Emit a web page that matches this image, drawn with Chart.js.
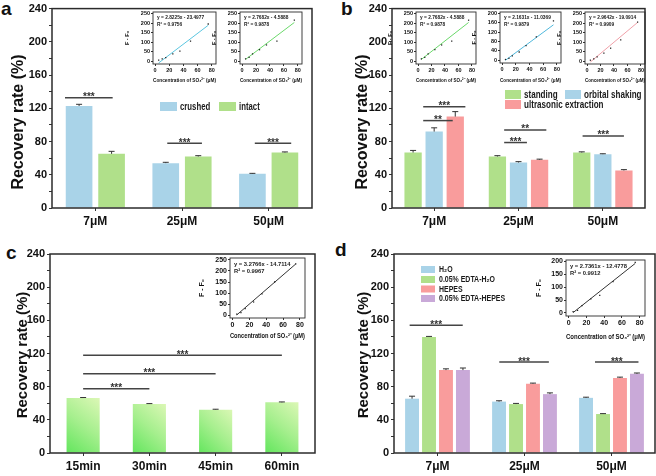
<!DOCTYPE html>
<html>
<head>
<meta charset="utf-8">
<script src="https://cdn.jsdelivr.net/npm/chart.js@4.4.1/dist/chart.umd.min.js"></script>
<style>
  body { margin: 0; background: #fff; width: 656px; height: 476px; position: relative; overflow: hidden; }
  canvas { position: absolute; }
  .tag { position: absolute; font: bold 19px "Liberation Sans", Arial, sans-serif; line-height: 19px; color: #111; }
</style>
</head>
<body>
<div class="tag" style="left:1px;top:-1px">a</div>
<div class="tag" style="left:341px;top:-1px">b</div>
<div class="tag" style="left:6px;top:243px">c</div>
<div class="tag" style="left:335px;top:240px">d</div>

<canvas id="chartA" width="328" height="238" style="left:0;top:0"></canvas>
<canvas id="chartB" width="328" height="238" style="left:328px;top:0"></canvas>
<canvas id="chartC" width="328" height="238" style="left:0;top:238px"></canvas>
<canvas id="chartD" width="328" height="238" style="left:328px;top:238px"></canvas>

<canvas id="insetA1" width="108" height="80" style="left:124px;top:4px"></canvas>
<canvas id="insetA2" width="108" height="80" style="left:211px;top:4px"></canvas>
<canvas id="insetB1" width="106" height="80" style="left:387px;top:4px"></canvas>
<canvas id="insetB2" width="106" height="80" style="left:471px;top:4px"></canvas>
<canvas id="insetB3" width="100" height="80" style="left:556px;top:4px"></canvas>
<canvas id="insetC" width="125" height="90" style="left:198px;top:250px"></canvas>
<canvas id="insetD" width="121" height="89" style="left:535px;top:252px"></canvas>

<script>
// ---- data ----
const concLabels = ["7μM", "25μM", "50μM"];
const timeLabels = ["15min", "30min", "45min", "60min"];
const yTicks = [0, 40, 80, 120, 160, 200, 240];
const yMinorTicks = [0, 20, 40, 60, 80, 100, 120, 140, 160, 180, 200, 220, 240];

// panel a
const crushed = [122.8, 54, 41.2];
const crushedErr = [2, 1, 0.5];
const intact = [65.2, 62, 66.8];
const intactErr = [3, 1, 0.7];
const sigA = [[-0.35, 0.2, 132.8, "***"], [0.83, 1.23, 78, "***"], [1.84, 2.26, 78, "***"]];

// panel b
const standing = [66.8, 62, 66.8];
const standingErr = [2.5, 1, 0.8];
const orbital = [92, 54.8, 64.8];
const orbitalErr = [4.5, 1, 0.5];
const ultrasonic = [110, 58, 45.2];
const ultrasonicErr = [6, 0.8, 1];
const sigB = [[-0.13, 0.37, 122, "***"], [-0.13, 0.22, 105.2, "**"], [0.83, 1.33, 94, "**"],
              [0.83, 1.1, 78.8, "***"], [1.76, 2.25, 86.8, "***"]];

// panel c
const extractTime = [66.3, 59.1, 52.3, 61.1];
const extractTimeErr = [0.6, 0.5, 0.5, 0.5];
const sigC = [[0, 3, 117.8, "***"], [0, 2, 95.7, "***"], [0, 1, 77.6, "***"]];

// panel d
const h2o = [65.5, 62, 66.5];
const h2oErr = [3, 1, 0.8];
const edtaH2o = [140, 59, 47];
const edtaH2oErr = [0.6, 0.8, 0.5];
const hepes = [100, 83.5, 90.5];
const hepesErr = [1.5, 0.8, 1];
const edtaHepes = [100, 71, 95.5];
const edtaHepesErr = [2.5, 1.5, 1];
const sigD = [[-0.32, 0.29, 154, "***"], [0.71, 1.28, 109.7, "***"], [1.81, 2.31, 109.7, "***"]];

// calibration insets
const calConc = [5, 10, 15, 25, 35, 50, 75];
const calCrushed = [5, 12, 18, 38, 52, 105, 195];
const calIntact = [12, 20, 38, 60, 85, 105, 215];
const calOrbital = [3, 8, 18, 35, 62, 100, 168];
const calUltra = [5, 12, 22, 42, 68, 112, 205];
const calTime = [5, 12, 30, 60, 97, 150, 232];
const calBuffer = [5, 10, 28, 55, 68, 122, 197];
const fitCrushed = [[5, -9.4], [75, 188.2]];
const fitIntact = [[5, 9.3], [75, 203]];
const fitOrbital = [[5, -0.2], [75, 151.2]];
const fitUltra = [[5, -4.3], [75, 203.2]];
const fitTime = [[5, 1.7], [75, 231]];
const fitBuffer = [[5, 1.2], [75, 192.7]];
const eqCrushed = ["y = 2.8225x - 23.4977", "R² = 0.9756"];
const eqIntact = ["y = 2.7682x - 4.5888", "R² = 0.9878"];
const eqOrbital = ["y = 2.1631x - 11.0369", "R² = 0.9879"];
const eqUltra = ["y = 2.9642x - 19.0914", "R² = 0.9909"];
const eqTime = ["y = 3.2766x - 14.7114", "R² = 0.9967"];
const eqBuffer = ["y = 2.7361x - 12.4778", "R² = 0.9912"];
const insetXTicks = [0, 20, 40, 60, 80];
const insetTicks250 = [0, 50, 100, 150, 200, 250];
const insetTicks200 = [0, 40, 80, 120, 160, 200];
const insetTicks200b = [0, 50, 100, 150, 200];

const FONT = '"Liberation Sans", Arial, sans-serif';
const BLUE = "#a9d3e8", GREEN = "#b0e08a", RED = "#f99c9c", PURPLE = "#c9a9d8";

// ---- plugins ----
function framePlugin(lw) {
  return {
    id: "frame",
    afterDraw(chart) {
      const { ctx, chartArea: a } = chart;
      ctx.save();
      ctx.strokeStyle = "#2b2b2b";
      ctx.lineWidth = lw;
      ctx.strokeRect(a.left, a.top, a.right - a.left, a.bottom - a.top);
      ctx.restore();
    }
  };
}

function errorPlugin() {
  return {
    id: "errbars",
    afterDatasetsDraw(chart) {
      const ctx = chart.ctx, ys = chart.scales.y;
      chart.data.datasets.forEach((ds, di) => {
        if (!ds.errors) return;
        chart.getDatasetMeta(di).data.forEach((el, i) => {
          const top = ys.getPixelForValue(ds.data[i] + ds.errors[i]);
          ctx.save();
          ctx.strokeStyle = "#333";
          ctx.lineWidth = 1;
          ctx.beginPath();
          ctx.moveTo(el.x, el.y);
          ctx.lineTo(el.x, top);
          ctx.moveTo(el.x - 3, top);
          ctx.lineTo(el.x + 3, top);
          ctx.stroke();
          ctx.restore();
        });
      });
    }
  };
}

function sigPlugin(items) {
  return {
    id: "sig",
    afterDatasetsDraw(chart) {
      const { ctx, scales: { x, y } } = chart;
      ctx.save();
      ctx.strokeStyle = "#444";
      ctx.fillStyle = "#333";
      ctx.lineWidth = 1.5;
      ctx.font = "bold 10px " + FONT;
      ctx.textAlign = "center";
      ctx.textBaseline = "alphabetic";
      items.forEach(([from, to, v, t]) => {
        const x1 = x.getPixelForValue(from), x2 = x.getPixelForValue(to), yy = y.getPixelForValue(v);
        ctx.beginPath();
        ctx.moveTo(x1, yy);
        ctx.lineTo(x2, yy);
        ctx.stroke();
        ctx.fillText(t, (x1 + x2) / 2, yy + 2.5);
      });
      ctx.restore();
    }
  };
}

// legend text in the figure is horizontally squeezed, sx compresses it
function legendPlugin(items, cfg) {
  return {
    id: "boxlegend",
    afterDraw(chart) {
      const ctx = chart.ctx;
      items.forEach(([di, x, y]) => {
        const ds = chart.data.datasets[di];
        ctx.save();
        ctx.fillStyle = ds.backgroundColor;
        ctx.fillRect(x, y, cfg.w, cfg.h);
        ctx.translate(x + cfg.w + cfg.gap, y + cfg.h / 2 + 0.5);
        ctx.scale(cfg.sx, 1);
        ctx.font = "bold " + cfg.size + "px " + FONT;
        ctx.textBaseline = "middle";
        ctx.fillStyle = "#1a1a1a";
        ctx.fillText(ds.label, 0, 0);
        ctx.restore();
      });
    }
  };
}

function yTitlePlugin(text, x, y, size) {
  return {
    id: "ytitle",
    afterDraw(chart) {
      const ctx = chart.ctx;
      ctx.save();
      ctx.translate(x, y);
      ctx.rotate(-Math.PI / 2);
      ctx.font = "bold " + size + "px " + FONT;
      ctx.fillStyle = "#111";
      ctx.textAlign = "center";
      ctx.textBaseline = "middle";
      ctx.fillText(text, 0, 0);
      ctx.restore();
    }
  };
}

function eqPlugin(lines, size) {
  return {
    id: "eq",
    afterDraw(chart) {
      const { ctx, chartArea: a } = chart;
      ctx.save();
      ctx.font = "bold " + size + "px " + FONT;
      ctx.fillStyle = "#222";
      ctx.textBaseline = "top";
      lines.forEach((t, i) => ctx.fillText(t, a.left + 4, a.top + 3 + i * (size + 2)));
      ctx.restore();
    }
  };
}

// ---- builders ----
function barPanel(id, labels, datasets, geo, extra) {
  return new Chart(document.getElementById(id), {
    type: "bar",
    data: { labels, datasets },
    options: {
      animation: false,
      responsive: false,
      layout: { padding: { top: geo.top, right: geo.right, left: 0, bottom: 0 } },
      plugins: { legend: { display: false }, tooltip: { enabled: false } },
      datasets: { bar: { categoryPercentage: geo.cat, barPercentage: geo.bar } },
      scales: {
        x: {
          grid: { offset: false, drawOnChartArea: false, tickLength: 3, color: "#333" },
          border: { display: false },
          ticks: { color: "#111", font: { size: 12, weight: "bold", family: FONT }, padding: 3 },
          afterFit: s => { s.height = geo.xh; }
        },
        y: {
          min: 0, max: 240,
          grid: { drawOnChartArea: false, tickLength: 3, color: "#333" },
          border: { display: false },
          afterBuildTicks: s => { s.ticks = yMinorTicks.map(v => ({ value: v })); },
          ticks: {
            autoSkip: false, color: "#111", padding: 2,
            font: { size: 11, weight: "bold", family: FONT },
            callback: v => (yTicks.includes(v) ? v : "")
          },
          afterFit: s => { s.width = geo.yw; }
        }
      }
    },
    plugins: [errorPlugin(), framePlugin(1.5)].concat(extra)
  });
}

function insetPanel(id, vals, fit, color, eq, yTickList, yMin, yMax, geo) {
  return new Chart(document.getElementById(id), {
    type: "scatter",
    data: {
      datasets: [
        {
          data: calConc.map((c, i) => ({ x: c, y: vals[i] })),
          pointStyle: "rect", pointRadius: 0.9, backgroundColor: "#222", borderColor: "#222", borderWidth: 0
        },
        {
          data: fit.map(([x, y]) => ({ x, y })),
          showLine: true, borderColor: color, borderWidth: 1, pointRadius: 0
        }
      ]
    },
    options: {
      animation: false,
      responsive: false,
      layout: { padding: { top: geo.top, right: geo.right, left: 0, bottom: 0 } },
      plugins: { legend: { display: false }, tooltip: { enabled: false } },
      scales: {
        x: {
          type: "linear", min: -3, max: 86,
          grid: { drawOnChartArea: false, tickLength: 2, color: "#333" },
          border: { display: false },
          afterBuildTicks: s => { s.ticks = insetXTicks.map(v => ({ value: v })); },
          ticks: { autoSkip: false, maxRotation: 0, color: "#111", padding: 1, font: { size: geo.fs, weight: "bold", family: FONT } },
          title: { display: true, text: "Concentration of SO₃²⁻ (μM)", color: "#111", padding: { top: 1, bottom: 0 },
                   font: { size: geo.fs, weight: "bold", family: FONT } },
          afterFit: s => { s.height = geo.xh; }
        },
        y: {
          min: yMin, max: yMax,
          grid: { drawOnChartArea: false, tickLength: 2, color: "#333" },
          border: { display: false },
          afterBuildTicks: s => { s.ticks = yTickList.map(v => ({ value: v })); },
          ticks: { autoSkip: false, color: "#111", padding: 1, font: { size: geo.fs, weight: "bold", family: FONT } },
          title: { display: true, text: "F - F₀", color: "#111", padding: 0,
                   font: { size: geo.fs, weight: "bold", family: FONT } },
          afterFit: s => { s.width = geo.yw; }
        }
      }
    },
    plugins: [framePlugin(0.9), eqPlugin(eq, geo.eq)]
  });
}

// ---- panel a ----
barPanel("chartA", concLabels, [
  { label: "crushed", data: crushed, errors: crushedErr, backgroundColor: BLUE },
  { label: "intact", data: intact, errors: intactErr, backgroundColor: GREEN }
], { top: 8, right: 16, xh: 30, yw: 52, cat: 0.75, bar: 0.82 }, [
  sigPlugin(sigA),
  legendPlugin([[0, 160, 102], [1, 219, 102]], { size: 10.5, sx: 0.74, w: 17, h: 9, gap: 3 }),
  yTitlePlugin("Recovery rate (%)", 19, 122, 16)
]);

// ---- panel b ----
barPanel("chartB", concLabels, [
  { label: "standing", data: standing, errors: standingErr, backgroundColor: GREEN },
  { label: "orbital shaking", data: orbital, errors: orbitalErr, backgroundColor: BLUE },
  { label: "ultrasonic extraction", data: ultrasonic, errors: ultrasonicErr, backgroundColor: RED }
], { top: 8, right: 11, xh: 30, yw: 64, cat: 0.75, bar: 0.82 }, [
  sigPlugin(sigB),
  legendPlugin([[0, 177, 90], [1, 237, 90], [2, 177, 100]], { size: 10.5, sx: 0.77, w: 16, h: 9, gap: 3 }),
  yTitlePlugin("Recovery rate (%)", 35, 122, 16)
]);

// ---- panel c (gradient bars) ----
function timeGradient(ctx) {
  const chart = ctx.chart;
  const xs = chart.scales.x, ys = chart.scales.y;
  if (!xs || !ys || !chart.chartArea) return GREEN;
  const cx = xs.getPixelForValue(ctx.dataIndex);
  const g = chart.ctx.createLinearGradient(cx - 20, ys.getPixelForValue(0), cx + 22, ys.getPixelForValue(ctx.raw));
  g.addColorStop(0, "#5ee55a");
  g.addColorStop(0.5, "#a6ef8e");
  g.addColorStop(1, "#e2f8ba");
  return g;
}
barPanel("chartC", timeLabels, [
  { label: "extraction time", data: extractTime, errors: extractTimeErr, backgroundColor: timeGradient }
], { top: 16, right: 13, xh: 23, yw: 50, cat: 1, bar: 0.5 }, [
  sigPlugin(sigC),
  yTitlePlugin("Recovery rate (%)", 23, 117, 15)
]);

// ---- panel d ----
barPanel("chartD", concLabels, [
  { label: "H₂O", data: h2o, errors: h2oErr, backgroundColor: BLUE },
  { label: "0.05% EDTA-H₂O", data: edtaH2o, errors: edtaH2oErr, backgroundColor: GREEN },
  { label: "HEPES", data: hepes, errors: hepesErr, backgroundColor: RED },
  { label: "0.05% EDTA-HEPES", data: edtaHepes, errors: edtaHepesErr, backgroundColor: PURPLE }
], { top: 16, right: 1, xh: 23, yw: 66, cat: 0.78, bar: 0.82 }, [
  sigPlugin(sigD),
  legendPlugin([[0, 93, 28], [1, 93, 38], [2, 93, 47.5], [3, 93, 57]], { size: 8.5, sx: 0.82, w: 14, h: 7, gap: 4 }),
  yTitlePlugin("Recovery rate (%)", 36, 117, 15)
]);

// ---- calibration insets ----
const smallGeo = { top: 8, yw: 29, xh: 20, fs: 5.5, eq: 4.8 };
insetPanel("insetA1", calCrushed, fitCrushed, "#5bc6e0", eqCrushed, insetTicks250, -15, 258, Object.assign({ right: 16 }, smallGeo));
insetPanel("insetA2", calIntact, fitIntact, "#6ad86a", eqIntact, insetTicks250, -15, 258, Object.assign({ right: 17 }, smallGeo));
insetPanel("insetB1", calIntact, fitIntact, "#6ad86a", eqIntact, insetTicks250, -15, 258, Object.assign({ right: 17 }, smallGeo));
insetPanel("insetB2", calOrbital, fitOrbital, "#4fb8dc", eqOrbital, insetTicks200, -12, 206, Object.assign({ right: 16 }, smallGeo, { xh: 21 }));
insetPanel("insetB3", calUltra, fitUltra, "#f0a0a8", eqUltra, insetTicks250, -15, 258, Object.assign({ right: 11 }, smallGeo));
insetPanel("insetC", calTime, fitTime, "#333", eqTime, insetTicks250, -12, 258,
  { top: 8, right: 18, yw: 32, xh: 22, fs: 7, eq: 5.8 });
insetPanel("insetD", calBuffer, fitBuffer, "#333", eqBuffer, insetTicks200b, -12, 206,
  { top: 8, right: 11, yw: 31, xh: 25, fs: 7, eq: 5.8 });
</script>
</body>
</html>
